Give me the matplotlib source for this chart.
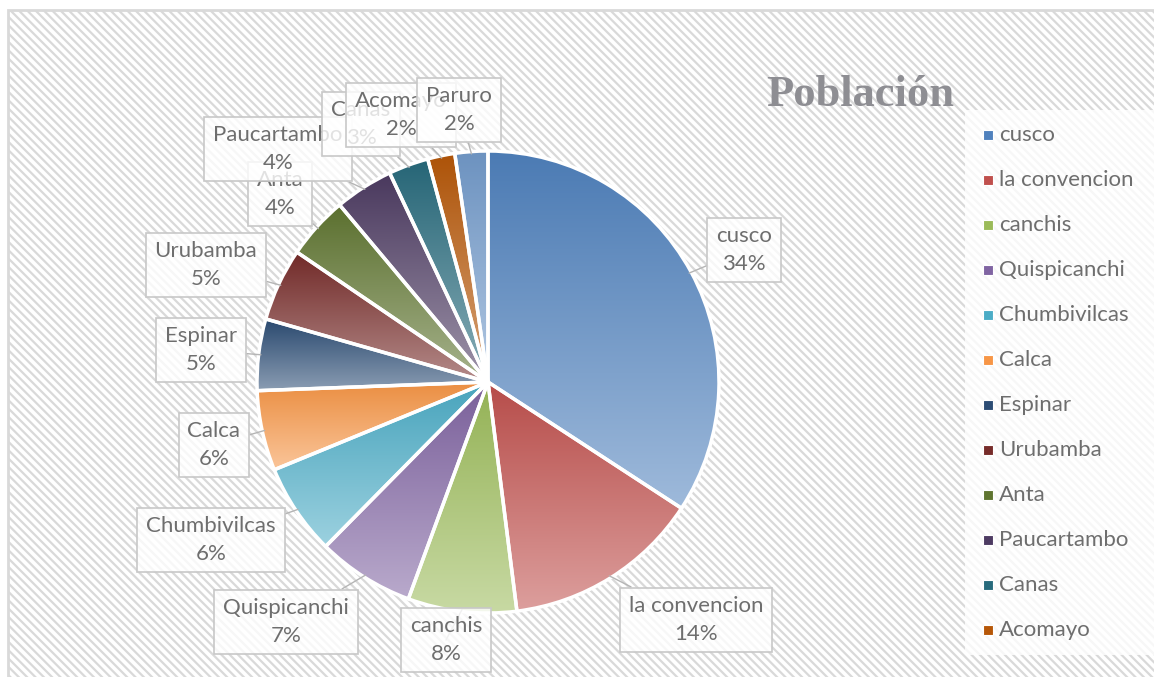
import numpy as np
import matplotlib
matplotlib.use("Agg")
import matplotlib.pyplot as plt
from matplotlib.colors import LinearSegmentedColormap, to_rgb
from matplotlib.patches import Rectangle

# ---------------- data ----------------
names = ['cusco', 'la convencion', 'canchis', 'Quispicanchi', 'Chumbivilcas', 'Calca',
         'Espinar', 'Urubamba', 'Anta', 'Paucartambo', 'Canas', 'Acomayo', 'Paruro']
shares = [34.2, 13.8, 7.6, 6.8, 6.4, 5.6, 5.0, 5.1, 4.4, 4.1, 2.8, 1.9, 2.3]
colors = ['#4F81BD', '#C0504D', '#9BBB59', '#8064A2', '#4BACC6', '#F79646',
          '#2C4D75', '#772C2A', '#5F7530', '#4D3B62', '#276A7C', '#B65708', '#729ACA']

# label box centres in pixels (x, y from top)
label_pos = [(744, 250), (696, 620), (446, 640), (286, 622), (211, 540), (214, 445),
             (201, 350), (206, 265), (280, 194), (278, 149), (361, 124), (401, 115), (459, 110)]

W, H = 1154, 677
plt.rcParams['font.family'] = ['Lato', 'DejaVu Sans']
txt_color = '#6e6e6e'

fig = plt.figure(figsize=(W / 100, H / 100), dpi=100)
plt.rcParams['hatch.linewidth'] = 1.6
plt.rcParams['hatch.color'] = '#efefef'

ax = fig.add_axes([0, 0, 1, 1])
ax.set_axis_off()

# hatched background with light border
ax.add_patch(Rectangle((8, -20), 1160, H - 10 + 20, facecolor='white', edgecolor='#d9d9d9',
                       lw=2, zorder=0))
ax.add_patch(Rectangle((8, -20), 1160, H - 10 + 20, facecolor='none', edgecolor='#d9d9d9',
                       hatch='\\\\\\\\', lw=0, zorder=0.1))

cx, cy, r = 488, H - 382, 231
wedges, _ = ax.pie(shares, colors=colors, startangle=90, counterclock=False,
                   center=(cx, cy), radius=r, frame=True,
                   wedgeprops=dict(edgecolor='white', linewidth=2.5))


def lighten(c, f):
    c = np.array(to_rgb(c))
    return tuple(c + (1 - c) * f)


def darken(c, f):
    return tuple(np.array(to_rgb(c)) * (1 - f))


# vertical gradient inside every slice
grad = np.linspace(0, 1, 256).reshape(-1, 1)
for w, c in zip(wedges, colors):
    v = w.get_path().vertices
    x0, x1 = v[:, 0].min(), v[:, 0].max()
    y0, y1 = v[:, 1].min(), v[:, 1].max()
    cm = LinearSegmentedColormap.from_list('g', [darken(c, 0.05), lighten(c, 0.45)])
    im = ax.imshow(grad, cmap=cm, extent=(x0, x1, y0, y1), origin='upper',
                   aspect='auto', zorder=1, interpolation='bilinear')
    im.set_clip_path(w)
    w.set_facecolor('none')
    w.set_zorder(2)

# labels with callouts
for w, n, s, (lx, ly) in zip(wedges, names, shares, label_pos):
    mid = np.deg2rad((w.theta1 + w.theta2) / 2)
    px, py = cx + r * 0.99 * np.cos(mid), cy + r * 0.99 * np.sin(mid)
    ax.annotate(f'{n}\n{round(s):d}%', xy=(px, py), xytext=(lx, H - ly),
                ha='center', va='center', fontsize=16, color=txt_color,
                linespacing=1.45, zorder=4,
                bbox=dict(boxstyle='square,pad=0.4', fc=(1, 1, 1, 0.8), ec='#c8c8c8', lw=1.2),
                arrowprops=dict(arrowstyle='-', color='#b5b5b5', lw=1.0,
                                shrinkA=0, shrinkB=0))

# title
ax.text(860, H - 95, 'Población', ha='center', va='center', fontsize=32,
        fontweight='bold', family='Liberation Serif', color='#8e8e93', zorder=5)

# legend (last entry does not fit in the box)
ax.add_patch(Rectangle((965, H - 655), 190, 545, facecolor=(1, 1, 1, 0.8),
                       edgecolor='none', zorder=3))
for i, (n, c) in enumerate(zip(names[:12], colors[:12])):
    y = H - (135 + 45 * i)
    ax.plot([988], [y], marker='s', ms=6.5, color=c, mec='white', mew=0.8, zorder=4)
    ax.text(999, y, n, ha='left', va='center', fontsize=16, color=txt_color, zorder=4)

ax.set_xlim(0, W)
ax.set_ylim(0, H)
ax.set_aspect('auto')

fig.savefig('out.png', dpi=100)
